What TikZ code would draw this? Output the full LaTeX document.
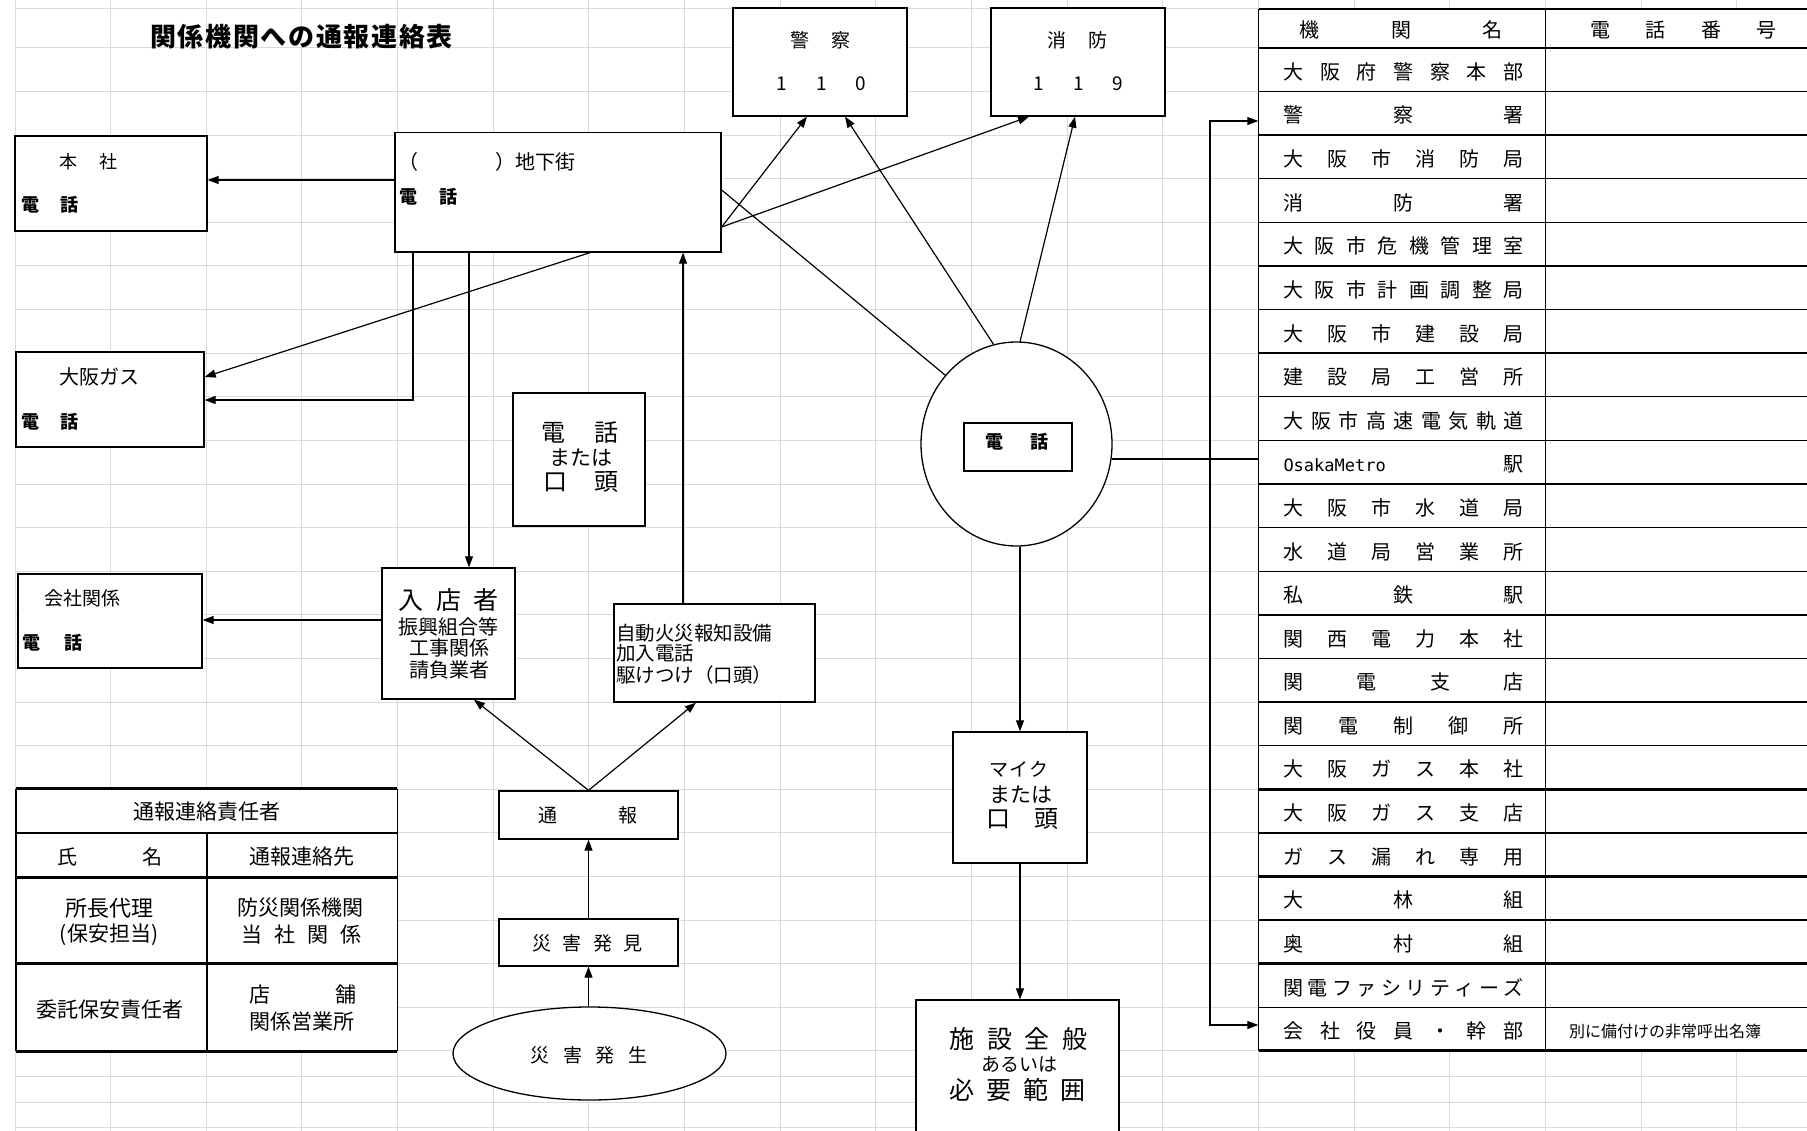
\documentclass[tikz,border=0pt]{standalone}
\usepackage{fontspec}
\setmainfont{Noto Sans CJK JP}
\newfontfamily\monof{DejaVu Sans Mono}
\usetikzlibrary{arrows.meta,shapes.geometric,calc}
\newcommand{\fz}[1]{\fontsize{#1}{#1}\selectfont}
\newcommand{\spr}[2]{\makebox[#1pt][s]{#2}}
\definecolor{gridc}{HTML}{DADADA}
\begin{document}
\begin{tikzpicture}[x=1pt,y=-1pt,
  gridl/.style={draw=gridc,line width=1pt},
  bx/.style={draw,line width=1.3pt,fill=white,inner sep=0pt,rectangle},
  ell/.style={draw,ellipse,line width=1.3pt,fill=white,inner sep=0pt},
  t/.style={inner sep=0pt,anchor=center},
  tw/.style={inner sep=0pt,anchor=west},
  arr/.style={-{Triangle[length=11pt,width=8pt]},line width=1.2pt},
  arrtwo/.style={{Triangle[length=11pt,width=8pt]}-{Triangle[length=11pt,width=8pt]},line width=1.2pt},
  plain/.style={line width=1.2pt},
  tl/.style={line width=1.4pt},
  tk/.style={line width=3pt}]
\useasboundingbox (0,0) rectangle (1807,1131);
\fill[white] (0,0) rectangle (1807,1131);
% spreadsheet grid
\foreach \i in {0,...,18} \draw[gridl] ({15+95.65*\i},0) -- ({15+95.65*\i},1131);
\draw[gridl] (15,9) -- (1807,9);
\foreach \k in {0,...,23} \draw[gridl] (15,{48+43.6*\k}) -- (1807,{48+43.6*\k});
\foreach \yy in {1076.5,1102,1127.5} \draw[gridl] (15,\yy) -- (1807,\yy);

% title
\node[t] (title) at (301.5,37) {\fz{26}\bfseries\spr{303}{関\hfill 係\hfill 機\hfill 関\hfill へ\hfill の\hfill 通\hfill 報\hfill 連\hfill 絡\hfill 表}};

% boxes
\node[bx,minimum width=192pt,minimum height=95pt] (honsha) at (111,183.5) {};
\node[bx,minimum width=326pt,minimum height=119.5pt] (chika) at (558,192.25) {};
\node[bx,minimum width=174pt,minimum height=108pt] (keisatsu) at (820,62) {};
\node[bx,minimum width=174pt,minimum height=108pt] (shobo) at (1078,62) {};
\node[bx,minimum width=188pt,minimum height=95pt] (gas) at (110,399.5) {};
\node[bx,minimum width=132pt,minimum height=133pt] (telkoto) at (579,459.5) {};
\node[bx,minimum width=184pt,minimum height=94pt] (kaisha) at (110,621) {};
\node[bx,minimum width=133pt,minimum height=131pt] (nyuten) at (448.5,633.5) {};
\node[bx,minimum width=201pt,minimum height=98pt] (jido) at (714.5,653) {};
\node[bx,minimum width=179pt,minimum height=48pt] (tsuho) at (588.5,815) {};
\node[bx,minimum width=179pt,minimum height=47pt] (hakken) at (588.5,942.5) {};
\node[ell,minimum width=273pt,minimum height=93pt] (hassei) at (589.5,1053.5) {};
\node[ell,minimum width=191pt,minimum height=204pt] (tel) at (1016.5,444) {};
\node[bx,minimum width=108pt,minimum height=48pt] (telin) at (1018,447) {};
\node[bx,minimum width=134pt,minimum height=131pt] (mic) at (1020,797.5) {};
\node[bx,minimum width=203pt,minimum height=140pt] (shisetsu) at (1017.5,1070) {};

% box texts
\node[t] at (88.5,162) {\fz{18}\spr{58}{本\hfill 社}};
\node[t] at (50,205) {\fz{18}\bfseries\spr{57}{電\hfill 話}};
\node[tw] at (398,162) {\fz{20}（\hspace{77pt}）地下街};
\node[t] at (428.5,197) {\fz{18}\bfseries\spr{58}{電\hfill 話}};
\node[t] at (820.5,40) {\fz{19}\spr{60}{警\hfill 察}};
\node[t] at (821.5,84) {\fz{19}\spr{90}{1\hfill 1\hfill 0}};
\node[t] at (1077.5,40) {\fz{19}\spr{60}{消\hfill 防}};
\node[t] at (1078.5,84) {\fz{19}\spr{90}{1\hfill 1\hfill 9}};
\node[t] at (99,377) {\fz{20}大阪ガス};
\node[t] at (50,422) {\fz{18}\bfseries\spr{57}{電\hfill 話}};
\node[t] at (580,433) {\fz{24}\spr{77}{電\hfill 話}};
\node[t] at (581,458) {\fz{21}または};
\node[t] at (581,482) {\fz{24}\spr{75}{口\hfill 頭}};
\node[t] at (82,598) {\fz{19}会社関係};
\node[t] at (53,643) {\fz{18}\bfseries\spr{60}{電\hfill 話}};
\node[t] at (448.5,600) {\fz{25}\spr{100}{入\hfill 店\hfill 者}};
\node[t] at (448.5,627) {\fz{20}振興組合等};
\node[t] at (449.5,648) {\fz{20}工事関係};
\node[t] at (449.5,670) {\fz{20}請負業者};
\node[tw] at (616,633) {\fz{19.5}自動火災報知設備};
\node[tw] at (616,653) {\fz{19.5}加入電話};
\node[tw] at (616,675) {\fz{19.5}駆けつけ（口頭）};
\node[t] at (588,815) {\fz{19}\spr{99}{通\hfill 報}};
\node[t] at (587.5,943) {\fz{19}\spr{110}{災\hfill 害\hfill 発\hfill 見}};
\node[t] at (589,1055) {\fz{19}\spr{117}{災\hfill 害\hfill 発\hfill 生}};
\node[t] at (1017,442) {\fz{18}\bfseries\spr{63}{電\hfill 話}};
\node[t] at (1019,769) {\fz{19}\spr{59}{マ\hfill イ\hfill ク}};
\node[t] at (1021,795) {\fz{21}または};
\node[t] at (1022.5,819) {\fz{24}\spr{72}{口\hfill 頭}};
\node[t] at (1018.5,1039) {\fz{25}\spr{138}{施\hfill 設\hfill 全\hfill 般}};
\node[t] at (1019.5,1064) {\fz{19}あるいは};
\node[t] at (1017.5,1090) {\fz{25}\spr{136}{必\hfill 要\hfill 範\hfill 囲}};

% left bottom table
\node[draw=none,fill=white,minimum width=381pt,minimum height=262pt,inner sep=0pt] (resp) at (206.5,920) {};
\draw[tk] (resp.north west) -- (resp.north east);
\draw[tl] (16,833) -- (397,833);
\draw[tk] (16,877) -- (397,877);
\draw[tk] (16,963) -- (397,963);
\draw[tk] (resp.south west) -- (resp.south east);
\draw[tl] (resp.north west) -- (resp.south west);
\draw[tl] (resp.north east) -- (resp.south east);
\draw[tl] (207,833) -- (207,1051);
\node[t] at (207,812) {\fz{21}通報連絡責任者};
\node[t] at (110,857) {\fz{20}\spr{105}{氏\hfill 名}};
\node[t] at (302,857) {\fz{21}通報連絡先};
\node[t] at (109.5,908) {\fz{22}所長代理};
\node[t] at (109,935) {\fz{21}(保安担当)};
\node[t] at (300.5,908) {\fz{21}防災関係機関};
\node[t] at (301.5,935) {\fz{21}\spr{120}{当\hfill 社\hfill 関\hfill 係}};
\node[t] at (110,1010) {\fz{21}委託保安責任者};
\node[t] at (303,995) {\fz{21}\spr{107}{店\hfill 舗}};
\node[t] at (302,1022) {\fz{21}関係営業所};

% right table
\fill[white] (1258.5,9) rectangle (1830,1050.8);
\node[draw=none,minimum width=286.9pt,minimum height=1041.8pt,inner sep=0pt] (namecol) at (1401.95,529.9) {};
\draw[tl] (1258.5,9) -- (1830,9);
\foreach \k in {0,1,...,16} \draw[tl] (1258.5,{48+43.6*\k}) -- (1830,{48+43.6*\k});
\foreach \k in {18,20,22} \draw[tl] (1258.5,{48+43.6*\k}) -- (1830,{48+43.6*\k});
\foreach \k in {17,19,21,23} \draw[tk] (1258.5,{48+43.6*\k}) -- (1830,{48+43.6*\k});
\draw[tl] (1258.5,9) -- (1258.5,1050.8);
\draw[tl] (1545.4,9) -- (1545.4,1050.8);
\node[t] at (1401,30) {\fz{20}\spr{203}{機\hfill 関\hfill 名}};
\node[t] at (1683.5,30) {\fz{20}\spr{186}{電\hfill 話\hfill 番\hfill 号}};
\foreach \txt [count=\i from 0] in {
  大\hfill 阪\hfill 府\hfill 警\hfill 察\hfill 本\hfill 部,
  警\hfill 察\hfill 署,
  大\hfill 阪\hfill 市\hfill 消\hfill 防\hfill 局,
  消\hfill 防\hfill 署,
  大\hfill 阪\hfill 市\hfill 危\hfill 機\hfill 管\hfill 理\hfill 室,
  大\hfill 阪\hfill 市\hfill 計\hfill 画\hfill 調\hfill 整\hfill 局,
  大\hfill 阪\hfill 市\hfill 建\hfill 設\hfill 局,
  建\hfill 設\hfill 局\hfill 工\hfill 営\hfill 所,
  大\hfill 阪\hfill 市\hfill 高\hfill 速\hfill 電\hfill 気\hfill 軌\hfill 道,
  {\monof\fz{17}OsakaMetro}\hfill 駅,
  大\hfill 阪\hfill 市\hfill 水\hfill 道\hfill 局,
  水\hfill 道\hfill 局\hfill 営\hfill 業\hfill 所,
  私\hfill 鉄\hfill 駅,
  関\hfill 西\hfill 電\hfill 力\hfill 本\hfill 社,
  関\hfill 電\hfill 支\hfill 店,
  関\hfill 電\hfill 制\hfill 御\hfill 所,
  大\hfill 阪\hfill ガ\hfill ス\hfill 本\hfill 社,
  大\hfill 阪\hfill ガ\hfill ス\hfill 支\hfill 店,
  ガ\hfill ス\hfill 漏\hfill れ\hfill 専\hfill 用,
  大\hfill 林\hfill 組,
  奥\hfill 村\hfill 組,
  関\hfill 電\hfill フ\hfill ァ\hfill シ\hfill リ\hfill テ\hfill ィ\hfill ー\hfill ズ,
  会\hfill 社\hfill 役\hfill 員\hfill ・\hfill 幹\hfill 部}
  \node[t] at (1403.5,{71.8+43.6*\i}) {\fz{20}\spr{240}{\txt}};
\node[t] at (1665,1031) {\fz{16}別に備付けの非常呼出名簿};

% connectors
\draw[arr] (chika.west |- 0,180) -- (honsha.east |- 0,180);
\draw[arr] (chika.south -| 590,0) -- (gas.east |- 0,377);
\draw[arr] (chika.south -| 413,0) |- (gas.east |- 0,400);
\draw[arr] (chika.south -| 469,0) -- (nyuten.north -| 469,0);
\draw[arr] (jido.north -| 683,0) -- (chika.south -| 683,0);
\draw[arr] (tsuho.north) -- (nyuten.south -| 474,0);
\draw[arr] (tsuho.north) -- (jido.south -| 696,0);
\draw[arr] (hakken.north) -- (tsuho.south);
\draw[arr] (hakken.south |- hassei.north) -- (hakken.south);
\draw[arr] (nyuten.west |- 0,620) -- (kaisha.east |- 0,620);
\draw[arr] (chika.east |- 0,227) -- (keisatsu.south -| 807,0);
\draw[arr] (chika.east |- 0,227) -- (shobo.south -| 1029,0);
\draw[plain] (chika.east |- 0,190) -- (tel.136);
\draw[arr] (tel.103) -- (keisatsu.south -| 845,0);
\draw[arr] (tel.88) -- (shobo.south -| 1075,0);
\draw[plain] (tel.-9) -- (namecol.west |- tel.-9);
\coordinate (spine) at (1210,573);
\draw[arrtwo] (namecol.west |- 0,121) -| (spine) |- (namecol.west |- 0,1025);
\draw[arr] (tel.south -| mic.north) -- (mic.north);
\draw[arr] (mic.south) -- (shisetsu.north -| mic.south);
\end{tikzpicture}
\end{document}
